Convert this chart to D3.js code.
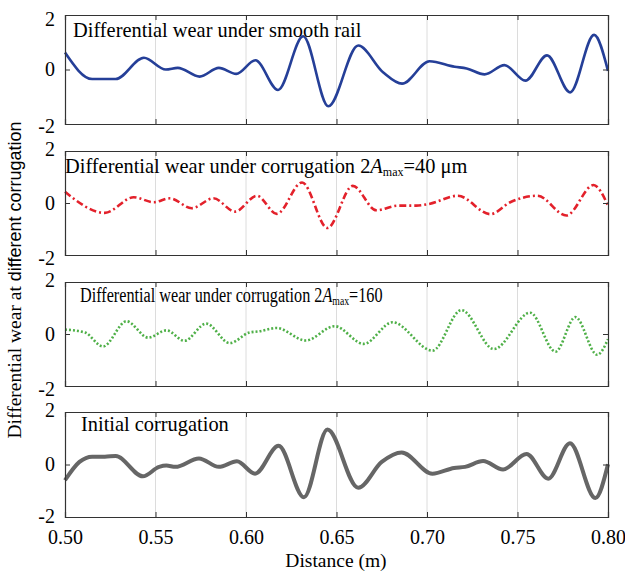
<!DOCTYPE html>
<html><head><meta charset="utf-8">
<script src="https://cdn.jsdelivr.net/npm/d3@7"></script>
<style>body{margin:0;background:#fff}</style>
</head><body>
<svg id="c" width="625" height="572"></svg>
<script>
// ---- data ----
const xTicks = [0.50, 0.55, 0.60, 0.65, 0.70, 0.75, 0.80];
const xTickLabels = ["0.50","0.55","0.60","0.65","0.70","0.75","0.80"];
const yTicks = [-2, 0, 2];
const yTickLabels = ["-2","0","2"];

const smoothX = [0.500,0.515,0.528,0.5436,0.5557,0.5623,0.5744,0.585,0.5946,0.6052,0.6177,0.6316,0.6455,0.662,0.6757,0.6862,0.7014,0.7153,0.7219,0.7318,0.7428,0.7544,0.7663,0.7791,0.7923,0.800];
const smoothY = [0.62,-0.35,-0.35,0.43,0.0,0.06,-0.26,0.06,-0.16,0.34,-0.75,1.22,-1.35,0.88,-0.1,-0.52,0.3,0.1,0.04,-0.18,0.16,-0.41,0.52,-0.84,1.27,-0.05];

const corr40X = [0.500,0.522,0.538,0.549,0.558,0.570,0.582,0.594,0.606,0.617,0.631,0.645,0.659,0.672,0.684,0.694,0.701,0.717,0.735,0.746,0.761,0.777,0.792,0.800];
const corr40Y = [0.43,-0.38,0.22,0.03,0.18,-0.2,0.18,-0.33,0.28,-0.42,0.79,-0.96,0.66,-0.28,-0.1,-0.1,-0.04,0.28,-0.43,0.03,0.28,-0.48,0.69,-0.1];

const corr160X = [0.500,0.511,0.521,0.534,0.546,0.556,0.566,0.578,0.591,0.602,0.607,0.617,0.633,0.649,0.665,0.681,0.703,0.719,0.737,0.757,0.771,0.782,0.794,0.800];
const corr160Y = [0.17,0.06,-0.48,0.49,-0.14,0.14,-0.26,0.4,-0.35,0.06,0.1,0.23,-0.25,0.3,-0.38,0.45,-0.64,0.92,-0.58,0.82,-0.68,0.65,-0.8,-0.2];

const initX = [0.500,0.508,0.515,0.522,0.528,0.543,0.552,0.556,0.561,0.574,0.585,0.595,0.605,0.618,0.632,0.645,0.662,0.675,0.686,0.703,0.715,0.721,0.731,0.742,0.755,0.767,0.779,0.793,0.800];
const initY = [-0.6,0.1,0.3,0.3,0.32,-0.45,-0.09,-0.04,-0.09,0.23,-0.09,0.12,-0.35,0.71,-1.25,1.33,-0.89,0.1,0.46,-0.35,-0.13,-0.09,0.13,-0.19,0.4,-0.54,0.81,-1.28,0.01];

// ---- layout ----
const L = 65, R = 608;
const tops = [15, 151, 282, 412];
const bottoms = [124, 255, 386, 517];
const svg = d3.select("#c");
const serif = "'Liberation Serif','Times New Roman',serif";
const sans = "'Liberation Sans',Arial,sans-serif";

const x = d3.scaleLinear().domain([0.5, 0.8]).range([L, R]);

const series = [
  {X: smoothX, Y: smoothY, color: "#253f98", width: 2.6, dash: null},
  {X: corr40X, Y: corr40Y, color: "#e3212b", width: 2.6, dash: "7,3,2,3"},
  {X: corr160X, Y: corr160Y, color: "#4fb048", width: 2.6, dash: "2,2"},
  {X: initX, Y: initY, color: "#666666", width: 4, dash: null}
];
// vertical nudges of y tick labels (-2, 0, 2) per panel
const labelNudge = [[2, 0, 4], [3, 0, -2], [3, 0, -2], [-1, 0, -2]];

series.forEach((s, i) => {
  const top = tops[i], bot = bottoms[i];
  const y = d3.scaleLinear().domain([-2, 2]).range([bot, top]);
  const g = svg.append("g");
  g.selectAll("line.grid").data(xTicks.slice(1, -1)).enter().append("line")
    .attr("x1", d => x(d)).attr("x2", d => x(d))
    .attr("y1", top).attr("y2", bot)
    .attr("stroke", "#dcdcdc").attr("stroke-width", 1);
  const pts = s.X.map((v, k) => [v, s.Y[k]]);
  const line = d3.line().x(d => x(d[0])).y(d => y(d[1])).curve(d3.curveMonotoneX);
  g.append("path").datum(pts).attr("d", line)
    .attr("fill", "none").attr("stroke", s.color).attr("stroke-width", s.width)
    .attr("stroke-dasharray", s.dash).attr("stroke-linejoin", "round");
  const axL = d3.axisLeft(y).tickValues(yTicks).tickFormat((d, k) => yTickLabels[k]).tickSize(-5).tickPadding(10);
  const axR = d3.axisRight(y).tickValues(yTicks).tickFormat("").tickSize(-5);
  const axT = d3.axisTop(x).tickValues(xTicks).tickFormat("").tickSize(-5);
  const axB = d3.axisBottom(x).tickValues(xTicks).tickSize(-5).tickPadding(13)
    .tickFormat((d, k) => i === 3 ? xTickLabels[k] : "");
  [[axL, `translate(${L},0)`], [axR, `translate(${R},0)`], [axT, `translate(0,${top})`], [axB, `translate(0,${bot})`]]
    .forEach(([ax, tr], j) => {
      const a = g.append("g").attr("transform", tr).call(ax);
      a.select(".domain").attr("stroke", "#333").attr("stroke-width", 1.2);
      a.selectAll(".tick line").attr("stroke", "#333");
      a.selectAll("text").attr("font-family", serif).attr("font-size", 20).attr("fill", "#000");
      if (j === 0) a.selectAll(".tick text").attr("y", (d, k) => labelNudge[i][k]);
    });
});

// panel titles
svg.append("text").attr("x", 73).attr("y", tops[0] + 21.5).attr("font-family", serif).attr("font-size", 20.4)
  .text("Differential wear under smooth rail");
const t2 = svg.append("text").attr("x", 65).attr("y", tops[1] + 22).attr("font-family", serif).attr("font-size", 20.4);
t2.append("tspan").text("Differential wear under corrugation 2");
t2.append("tspan").attr("font-style", "italic").text("A");
t2.append("tspan").attr("font-size", 12).attr("dy", 3).text("max");
t2.append("tspan").attr("dy", -3).text("=40 μm");
const t3 = svg.append("text").attr("transform", `translate(80,${tops[2] + 20}) scale(0.81,1)`)
  .attr("font-family", serif).attr("font-size", 20);
t3.append("tspan").text("Differential wear under corrugation 2");
t3.append("tspan").attr("font-style", "italic").text("A");
t3.append("tspan").attr("font-size", 12).attr("dy", 3).text("max");
t3.append("tspan").attr("dy", -3).text("=160");
svg.append("text").attr("x", 81).attr("y", tops[3] + 19).attr("font-family", serif).attr("font-size", 20.4)
  .text("Initial corrugation");

// axis titles
svg.append("text").attr("x", 336).attr("y", 567).attr("text-anchor", "middle")
  .attr("font-family", serif).attr("font-size", 19.5).text("Distance (m)");
const yt = svg.append("text").attr("transform", "translate(21,280) rotate(-90)").attr("text-anchor", "middle")
  .attr("font-size", 19.5);
yt.append("tspan").attr("font-family", serif).text("Differential wear at ");
yt.append("tspan").attr("font-family", sans).attr("font-size", 18).text("different corrugation");
</script>
</body></html>
